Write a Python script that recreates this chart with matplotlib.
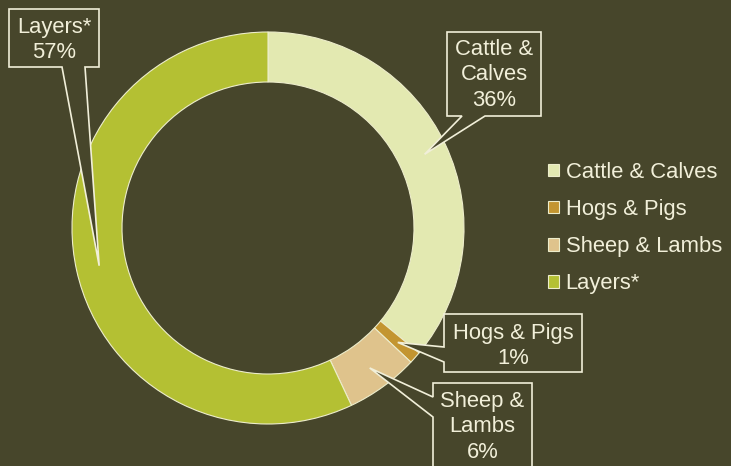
import numpy as np
import matplotlib.pyplot as plt
from matplotlib.patches import Polygon

# data
categories = ['Cattle & Calves', 'Hogs & Pigs', 'Sheep & Lambs', 'Layers*']
shares = [36, 1, 6, 57]
box_labels = ['Cattle &\nCalves\n36%', 'Hogs & Pigs\n1%', 'Sheep &\nLambs\n6%', 'Layers*\n57%']
colors = ['#E3E9B1', '#C39530', '#DFC38C', '#B4C033']

BG = '#47462B'
CREAM = '#F1EFD9'
W, H = 731, 466


def Y(y):
    # picture rows -> data y
    return H - y


plt.rcParams['font.family'] = ['Liberation Sans', 'DejaVu Sans']

fig = plt.figure(figsize=(W / 100, H / 100), dpi=100)
fig.patch.set_facecolor(BG)
ax = fig.add_axes([0, 0, 1, 1])
ax.set_facecolor(BG)

cx, cy, R = 268, Y(228), 196
wedges, _ = ax.pie(shares, colors=colors, startangle=90, counterclock=False,
                   radius=R, center=(cx, cy),
                   wedgeprops=dict(width=50, edgecolor='#EDEDCB', linewidth=0.8))

ax.set_xlim(0, W)
ax.set_ylim(0, H)
ax.set_aspect('equal')
ax.axis('off')

# callout boxes: (left, top, right, bottom), pointer side, pointer base, text centre row
boxes = [
    ((447, 32, 541, 116), 'bottom', (462, 485), 75),
    ((444, 314, 582, 372), 'left', (347, 362), 346),
    ((433, 383, 532, 475), 'left', (397, 417), 427),
    ((9, 9, 99, 67), 'bottom', (62, 85), 40),
]

for w, (box, side, base, ty), txt in zip(wedges, boxes, box_labels):
    mid = np.deg2rad((w.theta1 + w.theta2) / 2)
    r_mid = R - 23
    ax_pt = (cx + r_mid * np.cos(mid), cy + r_mid * np.sin(mid))
    L, T, Rr, B = box
    if side == 'bottom':
        verts = [(L, Y(T)), (Rr, Y(T)), (Rr, Y(B)), (base[1], Y(B)), ax_pt,
                 (base[0], Y(B)), (L, Y(B))]
    else:
        verts = [(L, Y(T)), (Rr, Y(T)), (Rr, Y(B)), (L, Y(B)), (L, Y(base[1])),
                 ax_pt, (L, Y(base[0]))]
    ax.add_patch(Polygon(verts, closed=True, facecolor=BG, edgecolor=CREAM,
                         linewidth=1.2, zorder=5))
    ax.text((L + Rr) / 2, Y(ty), txt, ha='center', va='center', color=CREAM,
            fontsize=15.8, linespacing=1.27, zorder=6)

leg = ax.legend(wedges, categories, loc='center left',
                bbox_to_anchor=(548 / W, Y(228) / H), frameon=False,
                handlelength=0.5, handleheight=0.5, handletextpad=0.3,
                labelspacing=0.74, borderpad=0, borderaxespad=0,
                fontsize=15.8, labelcolor=CREAM)

fig.savefig('out.png', dpi=100, facecolor=BG)
